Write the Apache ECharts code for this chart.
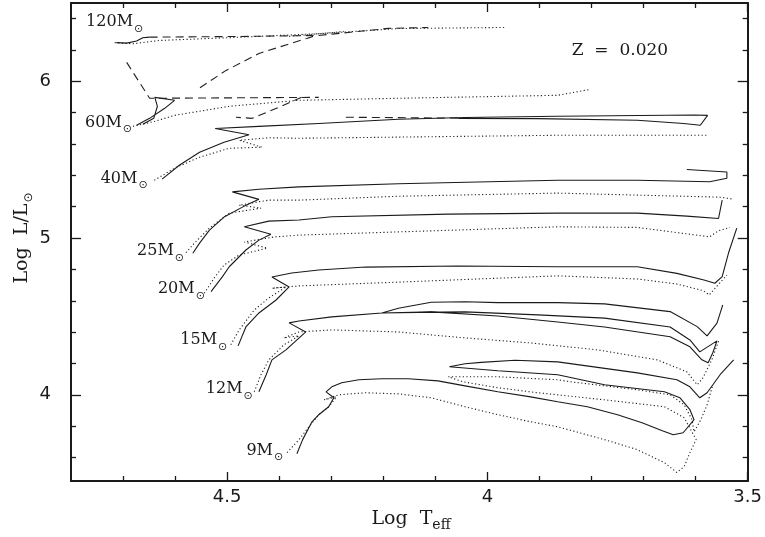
<!DOCTYPE html>
<html><head><meta charset="utf-8">
<script src="https://cdn.jsdelivr.net/npm/echarts@6/dist/echarts.min.js"></script>
<style>html,body{margin:0;padding:0;background:#fff}#c{width:765px;height:537px}</style>
</head><body><div id="c"></div>
<script>
// ---- axis ticks ----
const xMajor = [3.5, 4, 4.5];
const xMinor = [3.6, 3.7, 3.8, 3.9, 4.1, 4.2, 4.3, 4.4, 4.6, 4.7];
const yMajor = [4, 5, 6];
const yMinor = [3.6, 3.8, 4.2, 4.4, 4.6, 4.8, 5.2, 5.4, 5.6, 5.8, 6.2, 6.4];

// ---- tracks [logTeff, logL] ----
const m9_rot = [[4.366,3.624],[4.355,3.714],[4.337,3.828],[4.324,3.873],[4.305,3.924],[4.295,3.981],[4.310,4.019],[4.299,4.051],[4.280,4.077],[4.247,4.096],[4.203,4.102],[4.152,4.102],[4.095,4.089],[4.043,4.057],[3.980,4.019],[3.917,3.987],[3.865,3.956],[3.808,3.924],[3.750,3.873],[3.703,3.822],[3.664,3.771],[3.643,3.745],[3.624,3.758],[3.603,3.841],[3.611,3.905],[3.630,3.981],[3.660,4.019],[3.775,4.064],[3.865,4.128],[3.980,4.153],[4.073,4.179],[4.043,4.198],[4.012,4.207],[3.947,4.220],[3.865,4.210],[3.712,4.140],[3.636,4.096],[3.611,4.051],[3.592,3.981],[3.578,4.013],[3.553,4.128],[3.527,4.223]];
const m9_non = [[4.385,3.631],[4.362,3.714],[4.343,3.796],[4.324,3.873],[4.305,3.924],[4.290,3.987],[4.314,3.968],[4.286,4.000],[4.234,4.013],[4.171,4.006],[4.108,3.981],[4.043,3.924],[3.980,3.873],[3.917,3.828],[3.865,3.796],[3.775,3.714],[3.712,3.650],[3.660,3.567],[3.636,3.504],[3.622,3.542],[3.611,3.631],[3.599,3.714],[3.622,3.854],[3.660,3.924],[3.775,3.968],[3.903,4.013],[3.980,4.045],[4.047,4.083],[4.075,4.115],[3.980,4.115],[3.865,4.096],[3.840,4.083],[3.712,4.032],[3.649,4.000],[3.622,3.936],[3.607,3.841],[3.603,3.764],[3.590,3.841],[3.578,3.936],[3.567,4.064]];
const m12_rot = [[4.439,4.019],[4.425,4.128],[4.414,4.223],[4.387,4.287],[4.349,4.401],[4.381,4.459],[4.362,4.471],[4.299,4.497],[4.203,4.522],[4.108,4.529],[3.980,4.503],[3.865,4.465],[3.775,4.433],[3.649,4.370],[3.611,4.306],[3.588,4.223],[3.576,4.204],[3.567,4.268],[3.559,4.344],[3.592,4.274],[3.611,4.350],[3.649,4.433],[3.775,4.489],[3.903,4.510],[4.043,4.529],[4.133,4.526],[4.203,4.522],[4.171,4.552],[4.108,4.591],[4.043,4.594],[3.980,4.588],[3.865,4.588],[3.775,4.580],[3.649,4.531],[3.597,4.435],[3.578,4.376],[3.559,4.457],[3.550,4.552],[3.548,4.573]];
const m12_non = [[4.448,4.019],[4.435,4.128],[4.420,4.223],[4.391,4.319],[4.362,4.376],[4.391,4.363],[4.362,4.401],[4.299,4.414],[4.171,4.401],[4.043,4.363],[3.917,4.331],[3.789,4.287],[3.674,4.223],[3.617,4.147],[3.597,4.064],[3.586,4.108],[3.569,4.223],[3.555,4.350]];
const m15_rot = [[4.479,4.312],[4.464,4.433],[4.439,4.522],[4.406,4.605],[4.381,4.688],[4.414,4.752],[4.376,4.777],[4.324,4.796],[4.234,4.815],[4.056,4.822],[3.865,4.817],[3.712,4.817],[3.636,4.775],[3.584,4.733],[3.563,4.712],[3.549,4.754],[3.537,4.903],[3.521,5.064]];
const m15_non = [[4.493,4.319],[4.477,4.414],[4.448,4.541],[4.420,4.618],[4.387,4.688],[4.414,4.680],[4.362,4.695],[4.171,4.719],[3.865,4.759],[3.712,4.739],[3.636,4.707],[3.585,4.664],[3.574,4.637],[3.560,4.690],[3.540,4.764]];
const m20_rot = [[4.531,4.658],[4.509,4.754],[4.496,4.817],[4.464,4.924],[4.439,4.987],[4.416,5.025],[4.467,5.072],[4.420,5.108],[4.362,5.115],[4.299,5.136],[4.075,5.153],[3.865,5.159],[3.712,5.159],[3.617,5.140],[3.556,5.125],[3.549,5.242]];
const m20_non = [[4.544,4.648],[4.525,4.745],[4.506,4.828],[4.477,4.892],[4.423,4.936],[4.467,4.975],[4.410,5.007],[4.362,5.019],[3.865,5.072],[3.712,5.068],[3.585,5.013],[3.573,5.008],[3.556,5.047],[3.534,5.068]];
const m25_rot = [[4.566,4.903],[4.553,4.968],[4.534,5.051],[4.506,5.134],[4.467,5.204],[4.439,5.247],[4.490,5.295],[4.439,5.312],[4.362,5.327],[4.171,5.347],[3.865,5.369],[3.712,5.369],[3.573,5.359],[3.540,5.382],[3.540,5.422],[3.617,5.438]];
const m25_non = [[4.579,4.907],[4.563,4.968],[4.534,5.064],[4.496,5.159],[4.435,5.191],[4.477,5.210],[4.420,5.242],[4.362,5.242],[4.171,5.267],[3.865,5.287],[3.553,5.261],[3.527,5.248]];
const m40_rot = [[4.625,5.376],[4.592,5.465],[4.553,5.548],[4.506,5.612],[4.458,5.659],[4.523,5.699],[4.439,5.713],[4.324,5.731],[4.171,5.758],[4.043,5.769],[3.865,5.777],[3.603,5.785],[3.577,5.783],[3.591,5.720],[3.623,5.731],[3.712,5.752],[3.903,5.762],[4.056,5.764]];
const m40_non = [[4.640,5.369],[4.601,5.446],[4.553,5.516],[4.496,5.573],[4.433,5.580],[4.477,5.624],[4.420,5.640],[4.362,5.637],[3.865,5.656],[3.575,5.656]];
const m60_rot = [[4.674,5.720],[4.649,5.764],[4.620,5.828],[4.601,5.879],[4.639,5.898],[4.634,5.841],[4.641,5.764],[4.662,5.726]];
const m60_non = [[4.681,5.713],[4.639,5.745],[4.601,5.783],[4.496,5.841],[4.362,5.879],[4.171,5.892],[3.865,5.911],[3.802,5.949]];
const m120_rot = [[4.713,6.247],[4.693,6.244],[4.674,6.257],[4.662,6.278],[4.649,6.282]];
const m120_non = [[4.716,6.247],[4.681,6.240],[4.630,6.261],[4.502,6.278],[4.324,6.304],[4.171,6.337],[3.965,6.344]];
const m120_non2 = [[4.381,6.287],[4.276,6.318]];
const dashA = [[4.649,6.282],[4.458,6.287],[4.324,6.293],[4.190,6.338],[4.114,6.344]];
const dashB = [[4.335,6.287],[4.347,6.274],[4.439,6.178],[4.502,6.070],[4.557,5.949]];
const dashC = [[4.693,6.121],[4.649,5.892],[4.324,5.898]];
const dashD = [[4.357,5.898],[4.401,5.834],[4.452,5.764],[4.483,5.771]];
const dashE = [[4.272,5.771],[4.005,5.764]];

// ---- labels ----
const massNames = ['120M', '60M', '40M', '25M', '20M', '15M', '12M', '9M'];
const massAnchors = [[4.771,6.378],[4.773,5.737],[4.743,5.380],[4.673,4.917],[4.633,4.673],[4.590,4.350],[4.541,4.038],[4.463,3.645]];
const zText = 'Z  =  0.020';
const zAnchor = [3.838, 6.197];

const rotTracks = [m9_rot, m12_rot, m15_rot, m20_rot, m25_rot, m40_rot, m60_rot, m120_rot];
const nonTracks = [m9_non, m12_non, m15_non, m20_non, m25_non, m40_non, m60_non, m120_non, m120_non2];
const dashTracks = [dashA, dashB, dashC, dashD, dashE];

const INK = '#1a1a1a';
const styles = {
  rot: {color: INK, width: 1.1, type: 'solid'},
  non: {color: '#222', width: 1.1, type: [1.2, 2.4]},
  dash: {color: '#222', width: 1.1, type: [8, 5]}
};
const series = [];
function add(arr, st) {
  series.push({type: 'line', data: arr, showSymbol: false, symbol: 'none', xAxisIndex: 0, yAxisIndex: 0,
    lineStyle: styles[st], silent: true, animation: false, clip: true, z: 3});
}
nonTracks.forEach(t => add(t, 'non'));
dashTracks.forEach(t => add(t, 'dash'));
rotTracks.forEach(t => add(t, 'rot'));

const axLine = {show: true, lineStyle: {color: INK, width: 2}};
const tickStyle = {color: INK, width: 1.3};
const labelFont = {fontFamily: 'DejaVu Sans', fontSize: 18, color: INK};
function xAx(pos, vals, len, showLine, labels) {
  return {type: 'value', gridIndex: 0, min: 3.5, max: 4.8, inverse: true, position: pos,
    axisLine: showLine ? axLine : {show: false},
    axisTick: {show: true, inside: true, length: len, customValues: vals, lineStyle: tickStyle},
    axisLabel: labels ? Object.assign({show: true, customValues: vals, margin: 7}, labelFont) : {show: false},
    splitLine: {show: false}};
}
function yAx(pos, vals, len, showLine, labels) {
  return {type: 'value', gridIndex: 0, min: 3.45, max: 6.5, position: pos,
    axisLine: showLine ? axLine : {show: false},
    axisTick: {show: true, inside: true, length: len, customValues: vals, lineStyle: tickStyle},
    axisLabel: labels ? Object.assign({show: true, customValues: vals, margin: 20}, labelFont) : {show: false},
    splitLine: {show: false}};
}

const chart = echarts.init(document.getElementById('c'), null, {renderer: 'canvas'});
chart.setOption({
  backgroundColor: '#fff',
  animation: false,
  grid: {left: 71, right: 13, top: 3, bottom: 56, containLabel: false},
  xAxis: [xAx('bottom', xMajor, 9, true, true), xAx('bottom', xMinor, 5, false, false),
          xAx('top', xMajor, 9, true, false), xAx('top', xMinor, 5, false, false)],
  yAxis: [yAx('left', yMajor, 10, true, true), yAx('left', yMinor, 5, false, false),
          yAx('right', yMajor, 10, true, false), yAx('right', yMinor, 5, false, false)],
  series: series
});

const SERIF = '"DejaVu Serif", "Liberation Serif", serif';
function px(p) { return chart.convertToPixel({xAxisIndex: 0, yAxisIndex: 0}, p); }
const graphics = [];
massNames.forEach((n, i) => {
  const p = px(massAnchors[i]);
  graphics.push({type: 'text', x: p[0], y: p[1], silent: true, z: 10,
    style: {text: '{m|' + n + '}{s|\u2299}', align: 'left', verticalAlign: 'middle',
      rich: {m: {fontFamily: SERIF, fontSize: 16, fill: INK},
             s: {fontFamily: 'DejaVu Sans', fontSize: 11, fill: INK, padding: [14, 0, 0, 1]}}}});
});
const zp = px(zAnchor);
graphics.push({type: 'text', x: zp[0], y: zp[1], silent: true,
  style: {text: zText, align: 'left', verticalAlign: 'middle', fontFamily: SERIF, fontSize: 17, fill: INK}});
// axis titles
graphics.push({type: 'text', x: 411, y: 519, silent: true,
  style: {text: '{a|Log  T}{b|eff}', align: 'center', verticalAlign: 'middle',
    rich: {a: {fontFamily: SERIF, fontSize: 19, fill: INK}, b: {fontFamily: SERIF, fontSize: 14, fill: INK, padding: [12, 0, 0, 0]}}}});
graphics.push({type: 'text', x: 22, y: 238, rotation: Math.PI / 2, silent: true,
  style: {text: '{a|Log  L/L}{b|\u2299}', align: 'center', verticalAlign: 'middle',
    rich: {a: {fontFamily: SERIF, fontSize: 19, fill: INK}, b: {fontFamily: 'DejaVu Sans', fontSize: 12, fill: INK, padding: [13, 0, 0, 1]}}}});
chart.setOption({graphic: graphics});
</script>
</body></html>
